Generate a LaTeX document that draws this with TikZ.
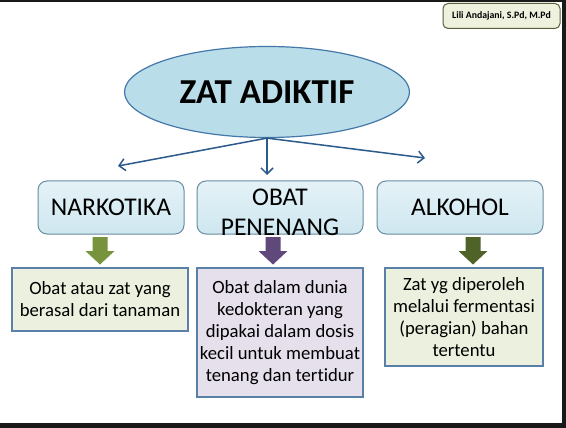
\documentclass[tikz,border=0pt]{standalone}
\usepackage{fontspec}
\setmainfont{Carlito}[Ligatures=NoCommon]
\usetikzlibrary{shapes.geometric,arrows.meta}
\definecolor{ellfill}{HTML}{BADEE9}
\definecolor{elldraw}{HTML}{4577A8}
\definecolor{topfillA}{HTML}{E4F2F7}
\definecolor{topfillB}{HTML}{CFE7F0}
\definecolor{topdraw}{HTML}{6A8CA0}
\definecolor{conncol}{HTML}{2B5A8C}
\definecolor{defdraw}{HTML}{5A80A8}
\definecolor{greenfill}{HTML}{EBF1DE}
\definecolor{lavfill}{HTML}{E5E0EC}
\definecolor{arrG}{HTML}{77933C}
\definecolor{arrP}{HTML}{5F497A}
\definecolor{arrD}{HTML}{4F6228}
\definecolor{authfill}{HTML}{EEF1DD}
\definecolor{authdraw}{HTML}{55603A}
\tikzset{
  conn/.style={draw=conncol, line width=1.5pt, -{Straight Barb[length=6pt,width=12pt,line width=1.5pt]}},
  topbox/.style={rectangle, rounded corners=9pt, draw=topdraw, line width=1pt, top color=topfillA, bottom color=topfillB, minimum height=53pt, inner sep=0pt, font=\fontsize{25.5}{30}\selectfont},
  defbox/.style={rectangle, draw=defdraw, line width=1.2pt, inner sep=0pt, align=center, font=\fontsize{18.7}{22}\selectfont}
}
\begin{document}
\begin{tikzpicture}[x=1pt,y=-1pt]
\useasboundingbox (0,0) rectangle (566,428);
\fill[black!90] (0,0) rectangle (566,428);
\fill[white] (0,2) rectangle (562,423);
% author
\node[rectangle, rounded corners=5pt, draw=authdraw, line width=1pt, fill=authfill, minimum width=117pt, minimum height=25pt, inner sep=0pt, font=\fontsize{9.8}{12}\selectfont\bfseries] (auth) at (501.5,16) {Lili Andajani, S.Pd, M.Pd};
% main ellipse
\node[ellipse, draw=elldraw, line width=1.2pt, fill=ellfill, minimum width=285pt, minimum height=91pt, inner sep=0pt, font=\fontsize{35}{40}\selectfont\bfseries] (zat) at (267,92) {ZAT ADIKTIF};
% top boxes
\node[topbox, minimum width=146pt] (nark) at (111,207.5) {NARKOTIKA};
\node[topbox, minimum width=166pt] (obat) at (280,207.5) {};
\node[inner sep=0pt, align=center, font=\fontsize{25.5}{30}\selectfont] (obatlbl) at (280,212) {OBAT\\PENENANG};
\node[topbox, minimum width=166pt] (alk) at (460,207.5) {ALKOHOL};
% connectors
\coordinate (tl) at (118,166);
\coordinate (tm) at (267,175);
\coordinate (tr) at (425,158);
\draw[conn] (zat.south) -- (tl);
\draw[conn] (zat.south) -- (tm);
\draw[conn] (zat.south) -- (tr);
% definition boxes
\node[defbox, fill=greenfill, minimum width=176pt, minimum height=63pt] (def1) at (100,299.5) {Obat atau zat yang\\berasal dari tanaman};
\node[defbox, fill=lavfill, minimum width=166pt, minimum height=129pt] (def2) at (280,332.5) {Obat dalam dunia\\kedokteran yang\\dipakai dalam dosis\\kecil untuk membuat\\tenang dan tertidur};
\node[defbox, fill=greenfill, minimum width=158pt, minimum height=98pt] (def3) at (464,317) {Zat yg diperoleh\\melalui fermentasi\\(peragian) bahan\\tertentu};
% block arrows
\foreach \cx/\col in {100/arrG, 273/arrP, 473/arrD}{
  \fill[\col] (\cx-7.5,237) -- (\cx+7.5,237) -- (\cx+7.5,251) -- (\cx+14.5,251) -- (\cx,264.5) -- (\cx-14.5,251) -- (\cx-7.5,251) -- cycle;
}
\end{tikzpicture}
\end{document}
